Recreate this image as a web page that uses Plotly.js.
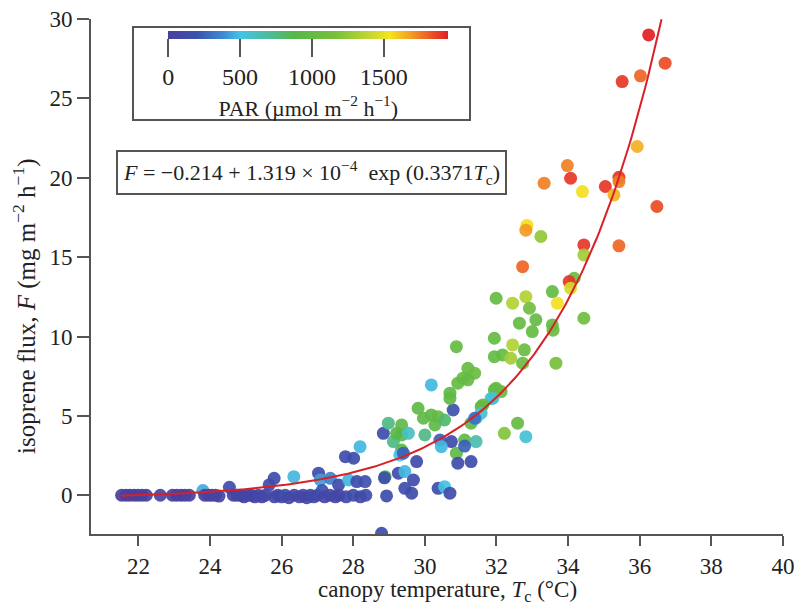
<!DOCTYPE html>
<html>
<head>
<meta charset="utf-8">
<script src="https://cdn.plot.ly/plotly-3.0.1.min.js"></script>
<style>html,body{margin:0;padding:0;background:#fff;}#chart{width:795px;height:604px;}</style>
</head>
<body>
<div id="chart"></div>
<script>
// canopy temperature (°C)
const temp = [
21.53,21.65,21.76,21.88,21.99,22.1,22.22,22.61,22.95,23.07,23.19,23.3,23.42,23.8,23.85,23.95,24.05,24.15,24.25,24.54,
24.65,24.75,24.85,24.95,25.05,25.15,25.25,25.35,25.45,25.55,25.65,25.79,25.8,25.9,26.0,26.1,26.2,26.34,26.35,26.5,
26.6,26.7,26.8,26.9,27.0,27.03,27.08,27.13,27.2,27.36,27.35,27.5,27.59,27.6,27.78,27.8,27.87,28.01,28.0,28.1,
28.19,28.2,28.33,28.35,
28.84,28.98,29.12,29.35,29.35,29.21,29.54,29.35,29.3,29.4,29.77,28.89,28.87,29.26,29.44,29.68,29.44,29.63,28.93,28.79,
29.81,30.0,29.96,30.18,30.37,30.28,30.55,30.18,30.79,30.7,30.7,30.88,30.92,31.06,31.2,31.39,31.2,30.42,30.74,30.46,
31.11,31.43,30.88,30.92,31.29,31.11,30.37,30.55,30.7,31.29,31.43,31.57,31.85,31.94,31.94,31.94,31.99,
33.33,34.07,34.4,32.85,32.82,33.24,34.44,34.44,32.73,34.17,34.03,34.07,33.56,32.45,32.82,33.7,32.92,34.44,33.1,32.64,
33.0,33.56,33.58,32.45,32.78,32.17,32.4,32.73,33.66,31.99,32.13,31.9,31.62,31.57,31.39,32.59,32.22,32.82,
36.25,36.71,35.51,36.02,35.93,33.98,35.04,35.42,35.42,35.28,36.48,35.42
];
// isoprene flux (mg m-2 h-1)
const flux = [
0,0,0,0,0,0,0,0,0,0,0,0,0,0.3,0,0,0,0,-0.05,0.5,
0,0,0,-0.1,0,0,-0.1,0,-0.1,0,0.65,1.07,-0.1,0,-0.1,0,-0.15,1.17,0,-0.1,
0,-0.15,0,-0.1,0,1.39,0.96,0.3,-0.1,1.07,0,-0.1,0.65,0,2.43,-0.1,0.96,2.33,0,0.86,
3.06,-0.1,0.86,0,
3.9,4.54,3.38,4.43,3.8,3.9,3.9,2.85,2.54,2.65,2.12,1.17,1.1,1.39,1.49,0.96,0.44,0.13,-0.04,-2.4,
5.48,3.8,4.85,5.06,4.95,4.43,4.74,6.95,5.37,6.43,6.1,9.36,7.06,7.37,8.0,7.69,7.27,3.48,3.38,3.06,
3.48,3.38,2.65,2.02,2.12,3.1,0.44,0.54,0.13,4.54,4.85,5.58,6.1,6.64,8.73,9.89,12.41,
19.66,19.97,19.13,17.0,16.7,16.3,15.77,15.14,14.4,13.67,13.46,13.04,12.83,12.1,12.51,12.1,11.78,11.15,11.05,10.84,
10.31,10.73,10.4,9.47,9.16,8.84,8.63,8.32,8.32,6.74,6.53,6.11,5.69,5.17,4.85,4.54,3.9,3.69,
29.0,27.22,26.06,26.42,21.97,20.77,19.45,20.03,19.76,18.92,18.19,15.71
];
// PAR (µmol m-2 h-1)
const par = [
0,0,0,0,0,20,20,50,30,0,20,0,30,450,50,60,40,80,60,150,
40,60,80,50,100,60,40,120,80,100,150,150,100,120,60,200,80,480,100,80,
120,60,100,150,120,150,420,200,80,350,120,100,150,80,150,120,480,150,150,150,
480,100,180,150,
150,750,750,950,950,900,600,900,500,250,150,850,150,150,480,150,150,150,150,150,
950,750,950,950,1000,950,800,480,200,950,950,1000,1000,1000,1000,1050,1000,250,150,480,
950,650,950,150,150,250,150,500,150,950,650,950,550,1000,1000,1000,1000,
1750,1900,1550,1550,1700,1250,1900,1300,1800,1050,1900,1450,1000,1350,1350,1550,1100,1100,1000,1000,
1000,1000,1050,1350,1050,1000,1300,1050,1150,1000,1000,550,1000,550,300,1000,1200,550,
1950,1850,1900,1800,1650,1750,1900,1900,1750,1650,1850,1800
];
// fitted curve F = a + b exp(c Tc), coefficients shown in the chart
const fitA = -0.214, fitB = 1.319e-4, fitC = 0.3371;
const fitStart = 21.5, fitEnd = 36.61;
const xTicks = [22,24,26,28,30,32,34,36,38,40];
const yTicks = [0,5,10,15,20,25,30];
const parTicks = [0,500,1000,1500];

const fitX = [], fitY = [];
for (let i = 0; i <= 200; i++) {
  const t = fitStart + (fitEnd - fitStart) * i / 200;
  fitX.push(t); fitY.push(fitA + fitB * Math.exp(fitC * t));
}

const SERIF = 'Liberation Serif, Times New Roman, serif';
const TXT = '#222';
const cscale = [
  [0.00,'#4a3f9e'],[0.10,'#3c50ae'],[0.19,'#3d86d2'],[0.26,'#45c3e4'],
  [0.36,'#4dbb9c'],[0.45,'#55b848'],[0.60,'#78c03c'],[0.72,'#c4d631'],
  [0.79,'#f4e41e'],[0.87,'#f39b24'],[0.94,'#ec5424'],[1.00,'#e11f26']
];

const L = 91, R = 12, T = 19, B = 70, W = 795, H = 604;
const pw = W - L - R, ph = H - T - B;
const px = v => (v - L) / pw;
const py = v => (H - B - v) / ph;

const data = [
  {
    x: temp, y: flux, type: 'scatter', mode: 'markers',
    marker: {
      size: 13, color: par, cmin: 0, cmax: 1950, colorscale: cscale, opacity: 0.92,
      line: {width: 0},
      colorbar: {
        orientation: 'h', x: px(308.3), xanchor: 'center', y: py(31.5), yanchor: 'top',
        lenmode: 'pixels', len: 280, thickness: 8, xpad: 0, ypad: 0,
        outlinewidth: 0, ticks: 'outside', ticklen: 18, tickwidth: 2, tickcolor: '#555',
        tickvals: parTicks, tickfont: {family: SERIF, size: 24, color: TXT},
        title: {text: 'PAR (µmol m<sup>−2</sup> h<sup>−1</sup>)', side: 'bottom', font: {family: SERIF, size: 22, color: TXT}}
      }
    },
    showlegend: false, hoverinfo: 'skip'
  },
  {
    x: fitX, y: fitY, type: 'scatter', mode: 'lines',
    line: {color: '#d82127', width: 2}, showlegend: false, hoverinfo: 'skip'
  }
];

const layout = {
  width: W, height: H,
  margin: {l: L, r: R, t: T, b: B},
  paper_bgcolor: '#fff', plot_bgcolor: '#fff',
  font: {family: SERIF, size: 22, color: TXT},
  xaxis: {
    range: [20.675, 40.002], tickvals: xTicks, showgrid: false, zeroline: false, ticklabeloverflow: 'allow',
    showline: true, linecolor: '#555', linewidth: 2, ticks: 'outside', ticklen: 10, tickwidth: 2, tickcolor: '#555',
    tickfont: {family: SERIF, size: 23, color: TXT}
  },
  yaxis: {
    range: [-2.44, 30], tickvals: yTicks, showgrid: false, zeroline: false,
    showline: true, linecolor: '#555', linewidth: 2, ticks: 'outside', ticklen: 12, tickwidth: 2, tickcolor: '#555',
    tickfont: {family: SERIF, size: 23, color: TXT}
  },
  shapes: [
    {type: 'rect', xref: 'paper', yref: 'paper', x0: px(133), x1: px(470), y0: py(120), y1: py(27),
     line: {color: '#555', width: 2}, fillcolor: 'rgba(0,0,0,0)'}
  ],
  annotations: [
    {xref: 'paper', yref: 'paper', x: px(311), y: py(172), xanchor: 'center', yanchor: 'middle', showarrow: false,
     text: '<i>F</i> = −0.214 + 1.319 × 10<sup>−4</sup>  exp (0.3371<i>T</i><sub>c</sub>)',
     font: {family: SERIF, size: 22, color: TXT},
     bordercolor: '#555', borderwidth: 2, borderpad: 5, bgcolor: '#fff'},
    {xref: 'paper', yref: 'paper', x: px(447), y: py(591), xanchor: 'center', yanchor: 'middle', showarrow: false,
     text: 'canopy temperature, <i>T</i><sub>c</sub> (°C)',
     font: {family: SERIF, size: 23, color: TXT}},
    {xref: 'paper', yref: 'paper', x: px(25), y: py(306), xanchor: 'center', yanchor: 'middle', showarrow: false,
     textangle: -90,
     text: 'isoprene flux, <i>F</i> (mg m<sup>−2</sup> h<sup>−1</sup>)',
     font: {family: SERIF, size: 25, color: TXT}}
  ]
};

Plotly.newPlot('chart', data, layout, {displayModeBar: false, staticPlot: true});
</script>
</body>
</html>
